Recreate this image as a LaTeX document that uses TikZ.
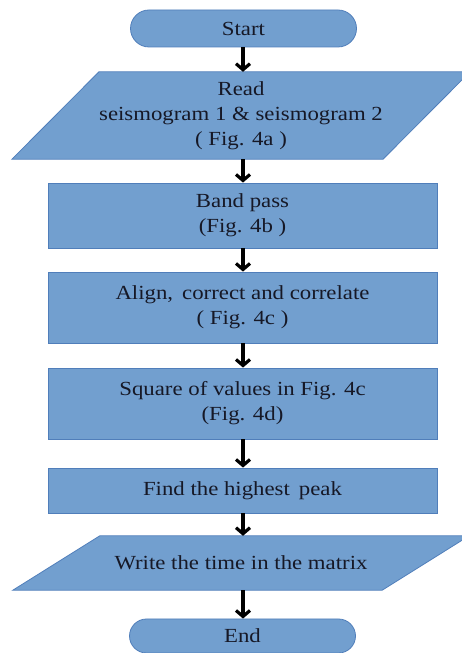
\documentclass[tikz,border=0pt]{standalone}
\usepackage{fontspec}
\setmainfont{Liberation Serif}[FakeStretch=1.14]
\usetikzlibrary{arrows.meta,shapes.misc,backgrounds}
\definecolor{boxfill}{RGB}{114,159,207}
\definecolor{boxedge}{RGB}{80,126,186}
\definecolor{txt}{RGB}{22,24,38}
\begin{document}
\begin{tikzpicture}[x=1pt,y=1pt,
  every node/.style={font=\fontsize{20}{25}\selectfont, text=txt, align=center, inner sep=0pt},
  proc/.style={draw=boxedge, fill=boxfill, line width=0.8pt, minimum width=389pt},
  term/.style={draw=boxedge, fill=boxfill, line width=0.8pt, rounded rectangle, minimum width=226pt},
  iobox/.style={minimum width=282pt},
  para/.style={draw=boxedge, fill=boxfill, line width=0.8pt},
  flow/.style={draw=black, line width=3.2pt, -{Straight Barb[length=6pt,width=14pt]}}
]
\useasboundingbox (0,0) rectangle (461,653);
\clip (0,0) rectangle (461,653);

\node[term, minimum height=37pt] (start) at (243.5,624.5) {Start};
\node[iobox, minimum height=87pt] (read) at (241,537.5) {Read\\seismogram 1 \& seismogram 2\\( Fig. 4a )};
\node[proc, minimum height=65pt] (band) at (242.5,437.5) {Band pass\\(Fig. 4b )};
\node[proc, minimum height=71pt] (align) at (242.5,345.5) {Align,\, correct and correlate\\( Fig. 4c )};
\node[proc, minimum height=71pt] (square) at (242.5,249.5) {Square of values in Fig. 4c\\(Fig. 4d)};
\node[proc, minimum height=45pt] (find) at (242.5,162.5) {Find the highest\, peak};
\node[iobox, minimum height=54pt] (write) at (241,90) {Write the time in the matrix};
\node[term, minimum height=34pt] (end) at (242.5,17) {End};

\begin{pgfonlayer}{background}
\path[para] (read.north west) -- ([xshift=87pt]read.north east) -- (read.south east) -- ([xshift=-87pt]read.south west) -- cycle;
\path[para] (write.north west) -- ([xshift=87pt]write.north east) -- (write.south east) -- ([xshift=-87pt]write.south west) -- cycle;
\end{pgfonlayer}

\coordinate (ax) at (243,0);
\draw[flow] (ax |- start.south) -- (ax |- read.north);
\draw[flow] (ax |- read.south) -- (ax |- band.north);
\draw[flow] (ax |- band.south) -- (ax |- align.north);
\draw[flow] (ax |- align.south) -- (ax |- square.north);
\draw[flow] (ax |- square.south) -- (ax |- find.north);
\draw[flow] (ax |- find.south) -- (ax |- write.north);
\draw[flow] (ax |- write.south) -- (ax |- end.north);
\end{tikzpicture}
\end{document}
